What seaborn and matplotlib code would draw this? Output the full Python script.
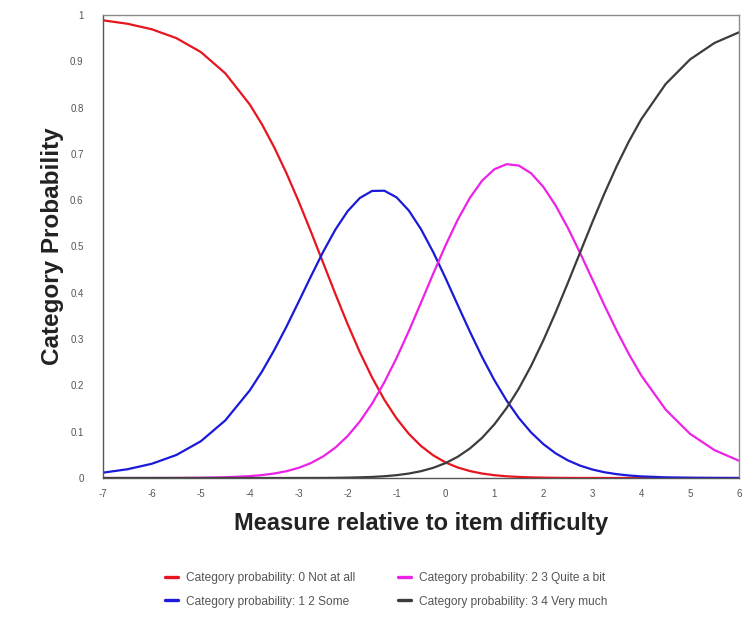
import matplotlib
matplotlib.use("Agg")
import matplotlib.pyplot as plt
from matplotlib.lines import Line2D
import seaborn as sns
import pandas as pd

measure = [-7, -6.5, -6, -5.5, -5, -4.5, -4, -3.75, -3.5, -3.25, -3, -2.75, -2.5, -2.25,
           -2, -1.75, -1.5, -1.25, -1, -0.75, -0.5, -0.25, 0, 0.25, 0.5, 0.75, 1, 1.25,
           1.5, 1.75, 2, 2.25, 2.5, 2.75, 3, 3.25, 3.5, 3.75, 4, 4.5, 5, 5.5, 6]

p_not_at_all = [.9885, .9811, .9691, .9500, .9200, .8740, .8067, .7637, .7141, .6583, .5972,
                .5320, .4647, .3974, .3324, .2717, .2170, .1691, .1287, .0955, .0692, .0489,
                .0337, .0227, .0150, .0096, .0061, .0037, .0023, .0013, .0008, .0004, .0002,
                .0001, .0001, 0, 0, 0, 0, 0, 0, 0, 0]
p_some = [.0115, .0189, .0308, .0497, .0794, .1244, .1892, .2300, .2762, .3269, .3808, .4355,
          .4885, .5365, .5762, .6048, .6200, .6205, .6062, .5778, .5374, .4878, .4321, .3738,
          .3160, .2611, .2112, .1672, .1296, .0984, .0733, .0534, .0382, .0268, .0184, .0124,
          .0083, .0054, .0035, .0014, .0006, .0002, .0001]
p_quite = [0, 0, .0001, .0002, .0006, .0016, .0040, .0063, .0097, .0147, .0220, .0323, .0466,
           .0657, .0906, .1221, .1607, .2066, .2591, .3171, .3787, .4413, .5020, .5577, .6053,
           .6423, .6669, .6778, .6748, .6581, .6289, .5889, .5406, .4865, .4297, .3728, .3182,
           .2675, .2219, .1478, .0953, .0601, .0373]
p_very = [0, 0, 0, 0, 0, 0, 0, 0, 0, 0, .0001, .0001, .0002, .0004, .0008, .0014, .0023, .0038,
          .0061, .0096, .0147, .0220, .0321, .0458, .0638, .0869, .1159, .1512, .1933, .2421,
          .2971, .3572, .4210, .4865, .5518, .6147, .6736, .7271, .7746, .8508, .9041, .9397,
          .9626]

series_labels = ["Category probability: 0 Not at all",
                 "Category probability: 1 2 Some",
                 "Category probability: 2 3 Quite a bit",
                 "Category probability: 3 4 Very much"]
series_values = [p_not_at_all, p_some, p_quite, p_very]
series_colors = ["#e8151f", "#1a1ad8", "#ee22e6", "#3c3c3c"]

x_ticks = list(range(-7, 7))
y_ticks = [0, 0.1, 0.2, 0.3, 0.4, 0.5, 0.6, 0.7, 0.8, 0.9, 1]
y_tick_labels = ["0", "0.1", "0.2", "0.3", "0.4", "0.5", "0.6", "0.7", "0.8", "0.9", "1"]

sns.set_theme(style="white")
plt.rcParams["font.family"] = ["Liberation Sans", "DejaVu Sans"]

fig = plt.figure(figsize=(7.53, 6.23), dpi=100)
ax = fig.add_axes([103 / 753, (623 - 478) / 623, (739 - 103) / 753, (478 - 15) / 623])

frames = []
for lab, vals in zip(series_labels, series_values):
    frames.append(pd.DataFrame({"measure": measure, "prob": vals, "series": lab}))
df = pd.concat(frames, ignore_index=True)

sns.lineplot(data=df, x="measure", y="prob", hue="series", hue_order=series_labels,
             palette=series_colors, linewidth=1.6, ax=ax, legend=False, sort=False)

ax.set_xlim(-7, 6)
ax.set_ylim(0, 1)
ax.set_xticks(x_ticks)
ax.set_xticklabels([str(t) for t in x_ticks])
ax.set_yticks(y_ticks)
ax.set_yticklabels(y_tick_labels)
ax.tick_params(axis="both", direction="inout", length=8, width=0.8, color="#555555",
               labelsize=7, labelcolor="#555555")
ax.tick_params(axis="y", pad=10)
ax.tick_params(axis="x", pad=4)
for side in ["left", "bottom"]:
    ax.spines[side].set_color("#555555")
    ax.spines[side].set_linewidth(1.0)
for side in ["top", "right"]:
    ax.spines[side].set_color("#8a8a8a")
    ax.spines[side].set_linewidth(1.0)

ax.set_xlabel("Measure relative to item difficulty", fontsize=17, fontweight="bold",
              color="#222222", labelpad=9)
ax.set_ylabel("Category Probability", fontsize=17.5, fontweight="bold",
              color="#222222", labelpad=4)

handles = [Line2D([0], [0], color=c, linewidth=2.4) for c in series_colors]
leg = fig.legend(handles, series_labels, ncol=2, loc="center",
                 bbox_to_anchor=(386 / 753, 1 - 590 / 623), frameon=False,
                 fontsize=8.6, handlelength=1.1, handletextpad=0.65,
                 columnspacing=3.6, labelspacing=0.95)
for t in leg.get_texts():
    t.set_color("#555555")

fig.savefig("out.png", dpi=100)
